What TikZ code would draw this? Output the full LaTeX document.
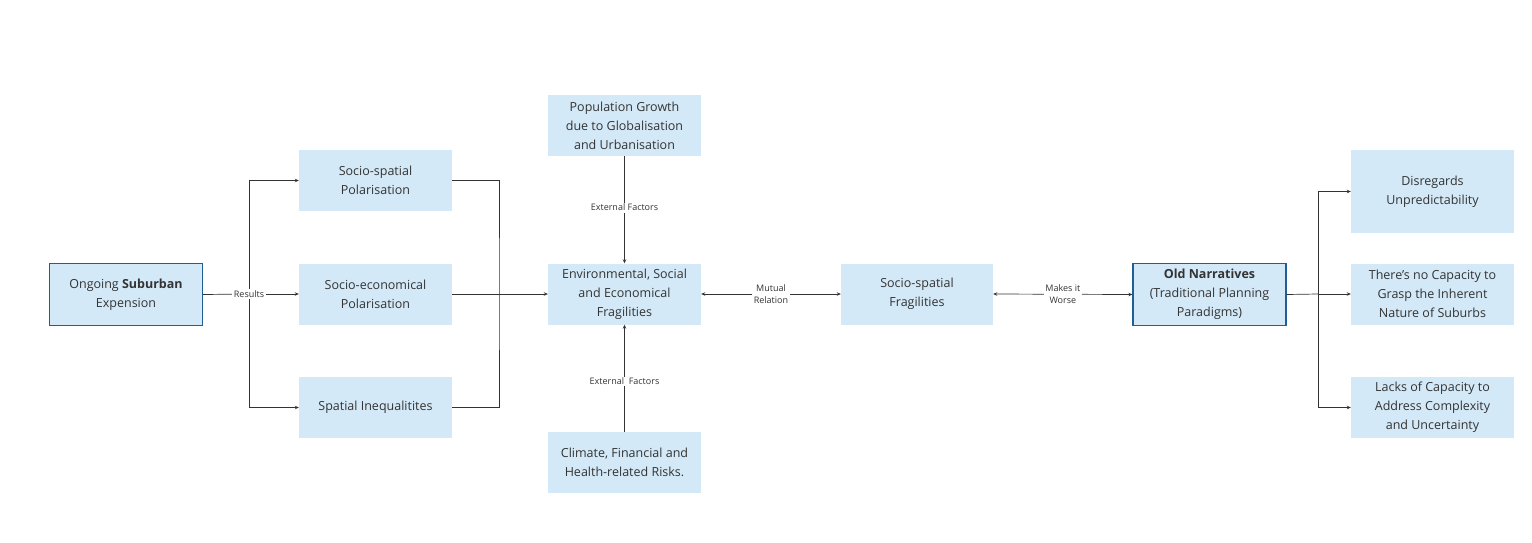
\documentclass[tikz,border=0pt]{standalone}
\usepackage{fontspec}
\setmainfont{Open Sans}
\usetikzlibrary{arrows.meta}
\definecolor{boxfill}{HTML}{D4E9F7}
\definecolor{boxedge}{HTML}{1F5F96}
\definecolor{ln}{HTML}{333333}
\begin{document}
\begin{tikzpicture}[x=1pt,y=-1pt,
  box/.style={fill=boxfill,draw=none,minimum width=153pt,minimum height=61pt,inner sep=2pt,align=center,font=\fontsize{12.5}{19}\selectfont,text=ln},
  key/.style={box,draw=boxedge,line width=1.2pt},
  conn/.style={draw=ln,line width=0.7pt},
  arr/.style={conn,-{Stealth[length=4pt,width=3.5pt]}},
  darr/.style={conn,{Stealth[length=4pt,width=3.5pt]}-{Stealth[length=4pt,width=3.5pt]}},
  lab/.style={fill=white,inner sep=1.5pt,align=center,font=\fontsize{9}{12}\selectfont,text=ln}]
\useasboundingbox (0,0) rectangle (1532,542);
\node[key,minimum width=153pt,minimum height=62pt] (A) at (126,294.5) {Ongoing \textbf{Suburban}\\Expension};
\node[box] (P1) at (375.5,180.5) {Socio-spatial\\Polarisation};
\node[box] (P2) at (375.5,294) {Socio-economical\\Polarisation};
\node[box] (P3) at (375.5,407.5) {Spatial Inequalitites};
\node[box] (Pop) at (624.5,125.5) {Population Growth\\due to Globalisation\\and Urbanisation};
\node[box] (Env) at (624.5,294) {Environmental, Social\\and Economical\\Fragilities};
\node[box] (Cl) at (624.5,462.5) {Climate, Financial and\\Health-related Risks.};
\node[box,minimum width=152pt] (S) at (917,294) {Socio-spatial\\Fragilities};
\node[key,minimum height=62pt] (O) at (1209.5,294.5) {\textbf{Old Narratives}\\(Traditional Planning\\Paradigms)};
\node[box,minimum width=163pt,minimum height=83pt] (D) at (1432.5,191.5) {Disregards\\Unpredictability};
\node[box,minimum width=163pt] (T) at (1432.5,294) {There's no Capacity to\\Grasp the Inherent\\Nature of Suburbs};
\node[box,minimum width=163pt] (L) at (1432.5,407.5) {Lacks of Capacity to\\Address Complexity\\and Uncertainty};
\coordinate (b1) at (249,294);
\coordinate (b2) at (499,294);
\coordinate (b3) at (1318,294);
\draw[conn] (A.east) -- (b1);
\draw[arr] (b1) |- (P1.west);
\draw[arr] (b1) -- (P2.west);
\draw[arr] (b1) |- (P3.west);
\node[lab] at (b1) {Results};
\draw[conn] (P1.east) -| (b2) |- (P3.east);
\draw[arr] (P2.east) -- (Env.west);
\draw[arr] (Pop.south) -- node[lab,pos=0.48]{External Factors} (Env.north);
\draw[arr] (Cl.north) -- node[lab,pos=0.47]{External\ \ Factors} (Env.south);
\draw[darr] (Env.east) -- node[lab]{Mutual\\Relation} (S.west);
\draw[darr] (S.east) -- node[lab]{Makes it\\Worse} (O.west);
\draw[conn] (O.east) -- (b3);
\draw[arr] (b3) |- (D.west);
\draw[arr] (b3) -- (T.west);
\draw[arr] (b3) |- (L.west);
\end{tikzpicture}
\end{document}
